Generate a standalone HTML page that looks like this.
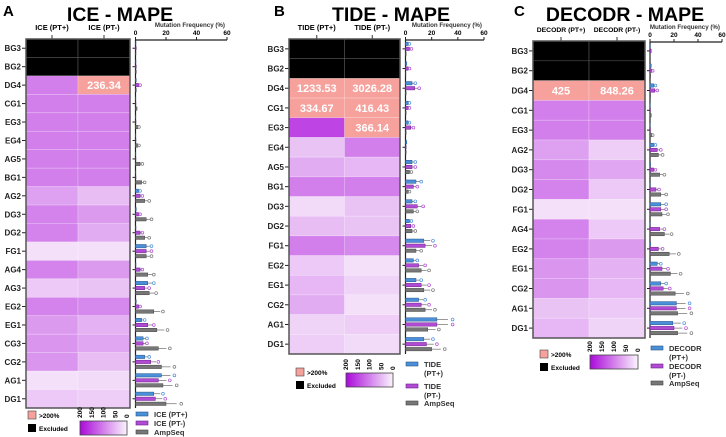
<!DOCTYPE html>
<html><head><meta charset="utf-8"><style>
body{margin:0;background:#fff;width:726px;height:437px;overflow:hidden}
svg{display:block;font-family:"Liberation Sans",Arial,sans-serif}
</style></head><body>
<svg id="fig" width="726" height="437" viewBox="0 0 726 437"></svg>
<script>
// ---- Panel A data ----
const rowsA=["BG3","BG2","DG4","CG1","EG3","EG4","AG5","BG1","AG2","DG3","DG2","FG1","AG4","AG3","EG2","EG1","CG3","CG2","AG1","DG1"];
const mapePlusA=[-1,-1,100,100,100,100,100,100,70,95,95,15,95,35,95,75,80,80,15,35];
const mapeMinusA=[-1,-1,236.34,100,100,100,100,100,45,75,60,15,75,40,90,55,65,45,20,30];
const freqPlusA=[0.3,0.3,0.5,0.2,0.2,0.2,0.2,0.2,2,0.5,0.3,7,0.3,8,0.5,4,5,6,17,12];
const freqMinusA=[0.5,0.5,2,0.3,0.3,0.3,0.3,0.3,3,2,3,7,3,6,2,8,5,10,15,13];
const freqAmpA=[0.3,0.5,0.5,1,1.5,1.5,3,4,6,7,6,7,8,9,12,14,15,17,18,20];
// ---- Panel B data ----
const rowsB=["BG3","BG2","DG4","CG1","EG3","EG4","AG5","BG1","DG3","DG2","FG1","EG2","EG1","CG2","AG1","DG1"];
const mapePlusB=[-1,-1,1233.53,334.67,150,40,60,100,20,45,100,35,50,60,25,30];
const mapeMinusB=[-1,-1,3026.28,416.43,366.14,100,50,100,40,40,90,15,25,15,30,20];
const freqPlusB=[2,1,5,2,2,1,5,8,5,3,14,6,8,10,24,14];
const freqMinusB=[3,2,7,2,4,0.5,5,6,9,4,15,10,12,12,24,16];
const freqAmpB=[0.5,0.3,0.5,0.5,0.5,0.5,3,2,6,5,8,12,14,15,17,20];
// ---- Panel C data ----
const rowsC=["BG3","BG2","DG4","CG1","EG3","AG2","DG3","DG2","FG1","AG4","EG2","EG1","CG2","AG1","DG1"];
const mapePlusC=[-1,-1,425,100,100,70,90,95,15,95,95,80,80,40,50];
const mapeMinusC=[-1,-1,848.26,100,100,30,65,35,15,35,75,55,50,35,25];
const freqPlusC=[0.3,1,3,0.2,0.2,3,0.5,0.3,9,0.3,0.5,6,9,22,19];
const freqMinusC=[1,1.5,4,0.3,0.3,6,3,5,9,8,7,10,11,22,20];
const freqAmpC=[0.3,0.5,0.5,1,1.5,7,8,9,10,12,16,17,21,23,23];
const freqTicks=[0,20,40,60];
const cbarTicks=[200,150,100,50,0];

const NS="http://www.w3.org/2000/svg";
const svg=document.getElementById('fig');
function el(tag,attrs,parent,text){const e=document.createElementNS(NS,tag);for(const k in attrs)e.setAttribute(k,attrs[k]);if(text!==undefined)e.textContent=text;(parent||svg).appendChild(e);return e;}
function heatColor(v){if(v<0)return"#000";if(v>200)return"#f6a19c";const t=v/200;const a=[250,241,252],b=[170,10,218];return"rgb("+a.map((c,i)=>Math.round(c+(b[i]-c)*t)).join(",")+")";}

function panel(P){
  const g=el('g',{},svg);
  
  
  let t=el('text',{x:P.letterX,y:16,'font-size':15,'font-weight':'bold'},g,P.letter);
  
  t=el('text',{x:P.titleX,y:21,'font-size':19.5,'font-weight':'bold','text-anchor':'middle'},g,P.title);
  
  const n=P.rows.length, rh=(P.hb-P.ht)/n, mid=(P.hl+P.hr)/2;
  const cols=[[P.hl,mid,P.plus],[mid,P.hr,P.minus]];
  cols.forEach((c,j)=>{
    const cx=(c[0]+c[1])/2;
    const h=el('text',{x:cx,y:P.ht-9,'font-size':P.hfs,'font-weight':'bold','text-anchor':'middle'},g,P.colNames[j]);
    
    el('line',{x1:cx,x2:cx,y1:P.ht-4,y2:P.ht,stroke:'#333','stroke-width':1},g);
  });
  for(let i=0;i<n;i++){
    const y=P.ht+i*rh;
    cols.forEach((c,j)=>{
      const v=c[2][i];
      const r=el('rect',{x:c[0],y:y,width:c[1]-c[0],height:rh,fill:heatColor(v),stroke:v<0?'#555':'rgba(255,255,255,0.35)','stroke-width':0.6},g);
      
      if(v>200){const tv=el('text',{x:(c[0]+c[1])/2,y:y+rh/2+4,'font-size':11,'font-weight':'bold',fill:'#fff','text-anchor':'middle'},g,v.toFixed(2).replace(/\.00$/,''));
        }
    });
    const lb=el('text',{x:P.hl-5,y:y+rh/2+3,'font-size':8,'font-weight':'bold','text-anchor':'end',fill:'#222'},g,P.rows[i]);
    
    el('line',{x1:P.hl-4,x2:P.hl,y1:y+rh/2,y2:y+rh/2,stroke:'#222','stroke-width':1},g);
  }
  el('rect',{x:P.hl,y:P.ht,width:P.hr-P.hl,height:P.hb-P.ht,fill:'none',stroke:'#555','stroke-width':1.5},g);
  const sx=v=>P.b0+(P.b60-P.b0)*v/60;
  const ax=el('line',{x1:P.b0,x2:P.b60,y1:P.ht+1,y2:P.ht+1,stroke:'#222','stroke-width':1.2},g);
  
  freqTicks.forEach(v=>{el('line',{x1:sx(v),x2:sx(v),y1:P.ht-2,y2:P.ht+1,stroke:'#222'},g);
    const tl=el('text',{x:sx(v),y:P.ht-4,'font-size':6.5,'font-weight':'bold','text-anchor':'middle'},g,v);
    });
  const xt=el('text',{x:P.b60-2,y:P.ht-12,'font-size':6.2,'font-weight':'bold','text-anchor':'end',fill:'#333'},g,'Mutation Frequency (%)');
  
  el('line',{x1:P.b0,x2:P.b0,y1:P.ht+1,y2:P.hb,stroke:'#222','stroke-width':1.2},g);
  const series=[[P.fp,'#4a8fd8','#27568c',-5],[P.fm,'#b04cd4','#6c1c8c',0],[P.fa,'#777','#444',5]];
  for(let i=0;i<n;i++){
    const cy=P.ht+i*rh+rh/2;
    el('line',{x1:P.b0-3,x2:P.b0,y1:cy,y2:cy,stroke:'#222'},g);
    series.forEach(s=>{
      const v=s[0][i], y=cy+s[3]-1.7;
      const b=el('rect',{x:P.b0,y:y,width:sx(v)-P.b0,height:3.4,fill:s[1],stroke:s[2],'stroke-width':0.5},g);
      
      if(v>1){el('line',{x1:sx(v),x2:sx(v*1.35),y1:cy+s[3],y2:cy+s[3],stroke:'#555','stroke-width':0.6},g);
        el('circle',{cx:sx(v*1.5),cy:cy+s[3],r:1.4,fill:'none',stroke:s[1],'stroke-width':0.7},g);}
    });
  }
  const L=P.leg;
  let r=el('rect',{x:L.x,y:L.y,width:8,height:8,fill:'#f6a19c',stroke:'#444','stroke-width':0.6},g);
  
  el('text',{x:L.x+11,y:L.y+7,'font-size':6.5,'font-weight':'bold'},g,'>200%');
  r=el('rect',{x:L.x,y:L.y+L.dy,width:8,height:8,fill:'#000'},g);
  
  el('text',{x:L.x+11,y:L.y+L.dy+7,'font-size':6.5,'font-weight':'bold'},g,'Excluded');
  const gid='grad'+P.id;
  const defs=el('defs',{},g);const lg=el('linearGradient',{id:gid,x1:0,x2:1,y1:0,y2:0},defs);
  el('stop',{offset:0,'stop-color':'#aa0ada'},lg);el('stop',{offset:1,'stop-color':'#fbf4fd'},lg);
  const cb=el('rect',{x:L.cx,y:L.cy,width:L.cw,height:14,fill:'url(#'+gid+')',stroke:'#444','stroke-width':0.8},g);
  
  cbarTicks.forEach((v,k)=>{const x=L.cx+L.cw*k/4;
    el('text',{x:0,y:0,'font-size':6.5,'font-weight':'bold',transform:'translate('+(x+2)+','+(L.cy-3)+') rotate(-90)'},g,v);});
  L.items.forEach((it,k)=>{
    const c=series[k];
    const lr=el('rect',{x:L.bx,y:it[1]-2,width:12,height:4,fill:c[1],stroke:c[2],'stroke-width':0.6},g);
    
    it[0].forEach((s,m)=>el('text',{x:L.bx+18,y:it[1]+3+m*9,'font-size':7.5,'font-weight':'bold',fill:'#333'},g,s));
  });
}
panel({id:'ice',letter:'A',letterX:3,title:'ICE - MAPE',titleX:120,rows:rowsA,plus:mapePlusA,minus:mapeMinusA,fp:freqPlusA,fm:freqMinusA,fa:freqAmpA,
  colNames:['ICE (PT+)','ICE (PT-)'],hfs:7.5,hl:26,hr:130,ht:39,hb:408,b0:135.5,b60:227,
  leg:{x:28,y:411,dy:13,cx:80,cy:421,cw:47,bx:136,items:[[['ICE (PT+)'],414],[['ICE (PT-)'],423],[['AmpSeq'],432]]}});
panel({id:'tide',letter:'B',letterX:274,title:'TIDE - MAPE',titleX:391,rows:rowsB,plus:mapePlusB,minus:mapeMinusB,fp:freqPlusB,fm:freqMinusB,fa:freqAmpB,
  colNames:['TIDE (PT+)','TIDE (PT-)'],hfs:7.5,hl:289,hr:400,ht:39,hb:354,b0:405.5,b60:484,
  leg:{x:296,y:368,dy:13,cx:346,cy:373,cw:47,bx:406,items:[[['TIDE','(PT+)'],364],[['TIDE','(PT-)'],386],[['AmpSeq'],403]]}});
panel({id:'decodr',letter:'C',letterX:514,title:'DECODR - MAPE',titleX:625,rows:rowsC,plus:mapePlusC,minus:mapeMinusC,fp:freqPlusC,fm:freqMinusC,fa:freqAmpC,
  colNames:['DECODR (PT+)','DECODR (PT-)'],hfs:6.8,hl:533,hr:645,ht:41,hb:338,b0:650,b60:722,
  leg:{x:540,y:350,dy:13,cx:590,cy:355,cw:48,bx:651,items:[[['DECODR','(PT+)'],348],[['DECODR','(PT-)'],366],[['AmpSeq'],383]]}});
</script>
</body></html>
